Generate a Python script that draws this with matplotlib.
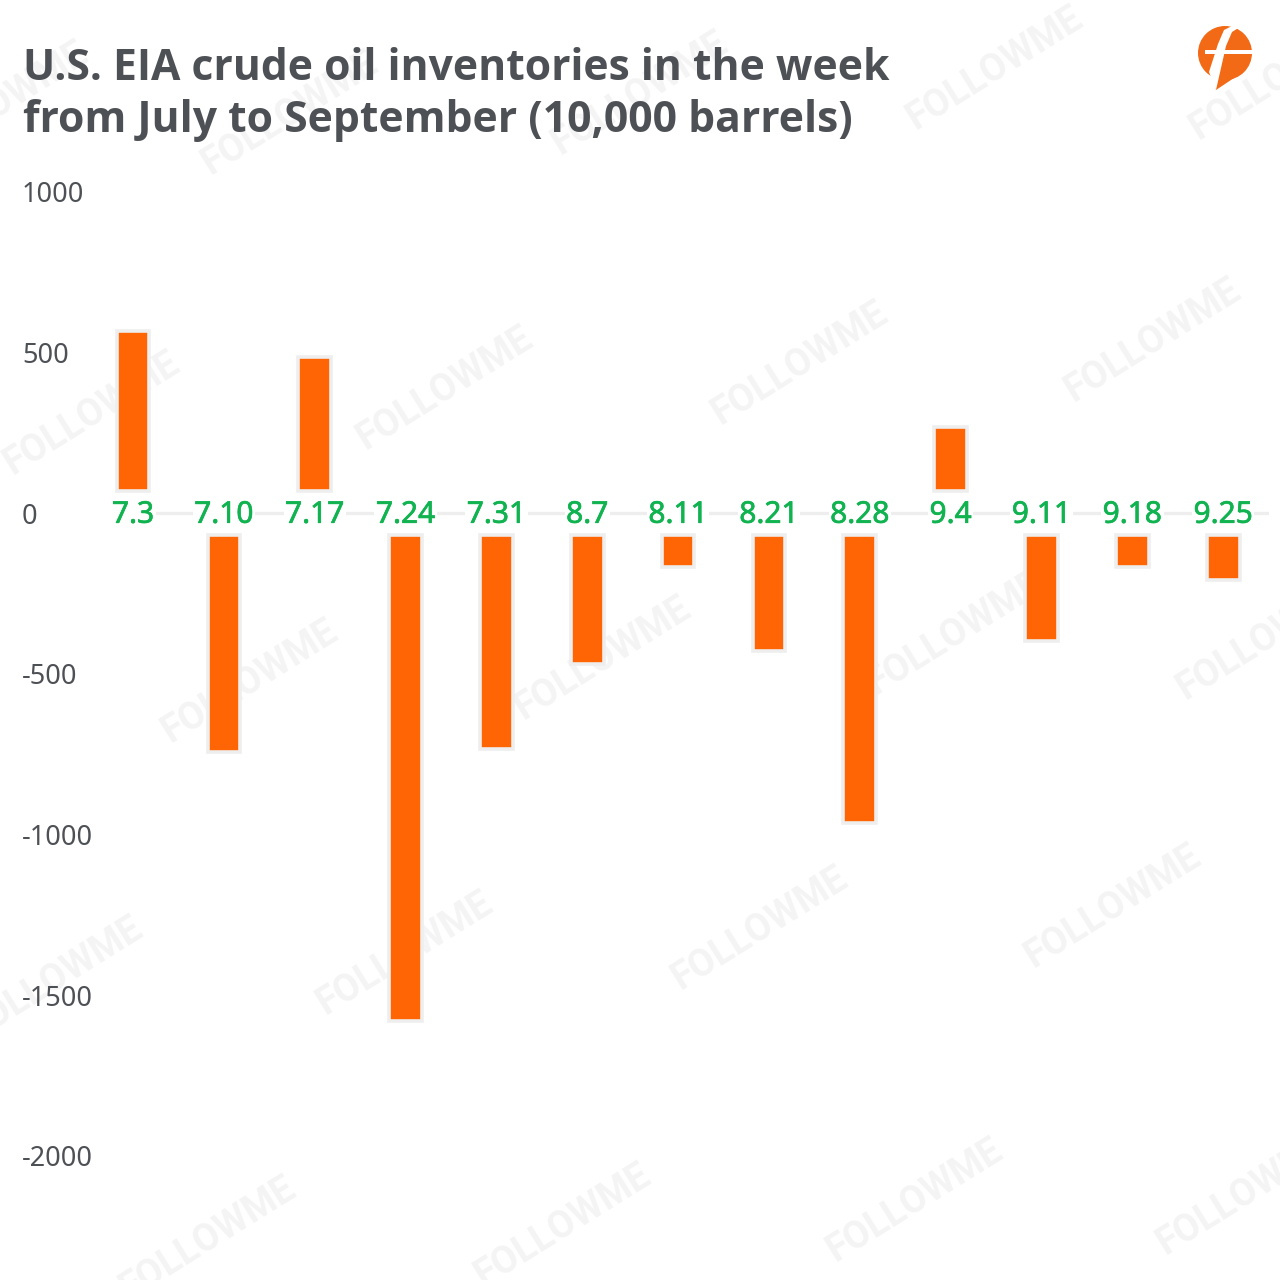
import matplotlib
matplotlib.use("Agg")
import matplotlib.pyplot as plt
from matplotlib.patches import Circle, Polygon
import matplotlib.patheffects as pe
import numpy as np

dates = ["7.3", "7.10", "7.17", "7.24", "7.31", "8.7", "8.11", "8.21", "8.28", "9.4", "9.11", "9.18", "9.25"]
inventories = [566, -742, 486, -1581, -733, -468, -168, -427, -963, 268, -398, -168, -208]
y_ticks = [1000, 500, 0, -500, -1000, -1500, -2000]

# centres of the FOLLOWME marks, in pixels
mark_x = [92, 445, 800, 1153, 250, 603, 955, 1265, 405, 760, 1113, 55, 208, 563, 915, 1245, 995, 640, 290, 1278, 0]
mark_y = [413, 388, 363, 340, 681, 658, 633, 638, 953, 928, 906, 978, 1238, 1225, 1200, 1193, 68, 93, 113, 78, 103]

plt.rcParams['font.family'] = ['Noto Sans', 'DejaVu Sans']
W = 1280
text_col = "#4d5055"
orange = "#ff6405"
green = "#10b350"
light = "#eeeeee"

fig = plt.figure(figsize=(12.8, 12.8), dpi=100, facecolor="white")

# watermark and logo sit in a pixel-coordinate layer
bg = fig.add_axes([0, 0, 1, 1], zorder=0)
bg.set_xlim(0, W)
bg.set_ylim(W, 0)
bg.axis("off")
for mx, my in zip(mark_x, mark_y):
    bg.text(mx, my, "FOLLOWME", rotation=32, rotation_mode="anchor", ha="center", va="center",
            fontsize=27, fontweight="bold", color="#f4f4f5", family=["Roboto", "DejaVu Sans"])

bg.add_patch(Circle((1225, 53), 27, fc="#f36a16", ec="none"))
bg.add_patch(Polygon([[1212, 70], [1216, 90], [1240, 74]], fc="#f36a16", ec="none"))
bg.add_patch(Polygon([[1205, 50], [1253, 50], [1253, 54], [1205, 54]], fc="white", ec="none"))
bg.add_patch(Polygon([[1216, 90], [1226, 46], [1232, 32], [1240, 27], [1232, 26], [1224, 30], [1218, 44], [1209, 72]],
                     fc="white", ec="none"))

# main chart: 0 at y=513, 160.6 px per 500
ax = fig.add_axes([87.6 / W, 1 - 1156 / W, 1181 / W, 964 / W], zorder=1)
ax.patch.set_alpha(0)
ax.set_ylim(-2000, 1000)
x = np.arange(len(dates))
ax.set_xlim(-0.5, len(dates) - 0.5)

vals = np.array(inventories)
base = np.sign(vals) * 68
ax.hlines(0, 0, len(dates) - 0.5, color=light, lw=2.4, zorder=1)
ax.bar(x, vals - base, bottom=base, width=0.36, color=orange, edgecolor=light, linewidth=2.6, zorder=2)

heavy = [pe.withStroke(linewidth=0.5, foreground=green)]
for i, d in enumerate(dates):
    ax.text(i, -6, d, ha="center", va="center", fontsize=21.5, color=green, zorder=3,
            path_effects=heavy, bbox=dict(fc="white", ec="none", pad=1))

for s in ax.spines.values():
    s.set_visible(False)
ax.set_xticks([])
ax.set_yticks(y_ticks)
ax.set_yticklabels([str(v) for v in y_ticks], ha="left", fontsize=19.5, color=text_col)
ax.tick_params(axis="y", length=0, pad=(87.6 - 22) * 0.72)

title_kw = dict(fontsize=30.7, fontweight="bold", color=text_col, va="center", zorder=5,
                family=["Open Sans", "DejaVu Sans"])
fig.text(23 / W, 1 - 69 / W, "U.S. EIA crude oil inventories in the week", **title_kw)
fig.text(23 / W, 1 - 121 / W, "from July to September (10,000 barrels)", **title_kw)

fig.savefig("out.png", dpi=100)
